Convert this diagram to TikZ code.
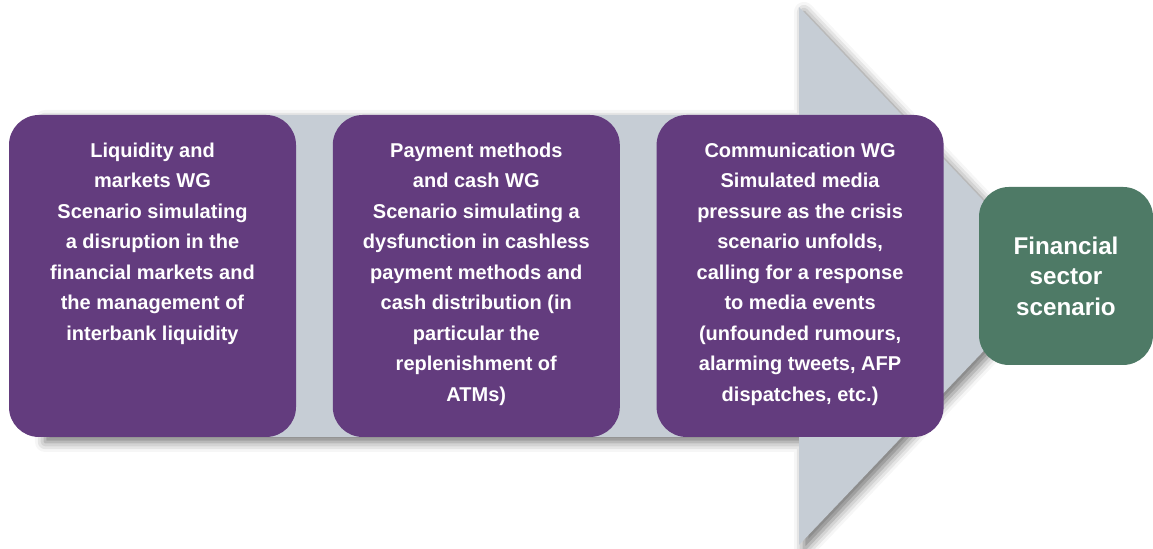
\documentclass[tikz,border=0pt]{standalone}
\usepackage{fontspec}
\setmainfont{Liberation Sans}
\usetikzlibrary{positioning,shadows.blur}
\definecolor{wgPurple}{HTML}{633C7E}
\definecolor{wgGreen}{HTML}{4E7A66}
\definecolor{wgArrow}{HTML}{C6CDD5}
\tikzset{
  wgbox/.style={
    fill=wgPurple, rounded corners=15pt, minimum width=143.5pt,
    minimum height=161pt, inner sep=0pt
  },
  wgtext/.style={
    text=white, font=\fontsize{10}{15.25}\selectfont\bfseries,
    align=center, inner sep=0pt, anchor=north
  },
  resultbox/.style={
    fill=wgGreen, rounded corners=15pt, minimum width=87pt, minimum height=89pt,
    text=white, font=\fontsize{12.1}{15.25}\selectfont\bfseries, align=center
  },
  bigarrow/.style={
    fill=wgArrow,
    blur shadow={shadow xshift=2.5pt, shadow yshift=-2.5pt, shadow blur radius=5pt, shadow opacity=55}
  }
}

\begin{document}
\begin{tikzpicture}[x=1pt, y=1pt, node distance=18pt]
  \useasboundingbox (0,0) rectangle (576.5,274.5);
  % background arrow
  \fill[bigarrow] (20,56) -- (399.5,56) -- (399.5,2) -- (527.5,136.5)
    -- (399.5,271) -- (399.5,217) -- (20,217) -- cycle;
  % working groups
  \node[wgbox] (liq) at (76.25,136.5) {};
  \node[wgbox, right=of liq] (pay) {};
  \node[wgbox, right=of pay] (com) {};
  \node[wgtext] (liqtxt) at ([yshift=-14pt]liq.north)
    {Liquidity and\\ markets WG\\ Scenario simulating\\ a disruption in the\\
     financial markets and\\ the management of\\ interbank liquidity};
  \node[wgtext] (paytxt) at ([yshift=-14pt]pay.north)
    {Payment methods\\ and cash WG\\ Scenario simulating a\\ dysfunction in cashless\\
     payment methods and\\ cash distribution (in\\ particular the\\ replenishment of\\ ATMs)};
  \node[wgtext] (comtxt) at ([yshift=-14pt]com.north)
    {Communication WG\\ Simulated media\\ pressure as the crisis\\ scenario unfolds,\\
     calling for a response\\ to media events\\ (unfounded rumours,\\ alarming tweets, AFP\\
     dispatches, etc.)};
  % result
  \node[resultbox] (fin) at (533,136.5) {Financial\\ sector\\ scenario};
\end{tikzpicture}
\end{document}
